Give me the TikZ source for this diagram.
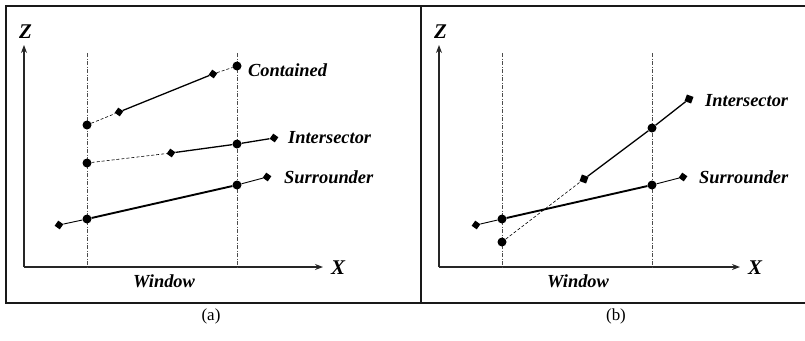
\documentclass[tikz,border=0pt]{standalone}
\usepackage{fontspec}
\setmainfont{Liberation Serif}
\usetikzlibrary{shapes.geometric,arrows.meta}
\begin{document}
\begin{tikzpicture}[x=1bp,y=-1bp,
  dotm/.style={circle,fill=black,inner sep=0pt,minimum size=9bp},
  diam/.style={diamond,fill=black,inner sep=0pt,minimum size=9bp,rotate=10},
  sqm/.style={rectangle,fill=black,inner sep=0pt,minimum size=7bp,rotate=-20},
  frameline/.style={line width=1.4bp,black!90},
  axis/.style={line width=1.1bp,black!85,-{Stealth[length=8bp,width=6bp]}},
  window/.style={line width=0.6bp,black!70,dash pattern=on 4bp off 1.5bp on 1bp off 1.5bp},
  dashedseg/.style={line width=0.6bp,dash pattern=on 3bp off 2bp},
  solidseg/.style={line width=1.3bp},
  thickseg/.style={line width=1.9bp},
  thinseg/.style={line width=0.9bp},
  lab/.style={font=\fontsize{18.5}{20}\selectfont\bfseries\itshape,inner sep=0pt},
  axlab/.style={font=\fontsize{21}{22}\selectfont\bfseries\itshape,inner sep=0pt},
  captext/.style={font=\fontsize{17}{18}\selectfont,inner sep=0pt}
]
\useasboundingbox (0,0) rectangle (805,340);
% frame
\coordinate (f1) at (6,6);
\coordinate (f2) at (805,6);
\coordinate (f3) at (805,303);
\coordinate (f4) at (6,303);
\coordinate (d1) at (421,6);
\coordinate (d2) at (421,303);
\draw[frameline] (f2) -- (f1) -- (f4) -- (f3);
\draw[frameline] (d1) -- (d2);

% ---------- panel (a) ----------
\coordinate (oa) at (24,267);
\coordinate (za) at (24,45);
\coordinate (xa) at (323,267);
\draw[axis] (oa) -- (za);
\draw[axis] (oa) -- (xa);
\node[axlab,anchor=base west] (Za) at (19,38) {Z};
\node[axlab,anchor=base west] (Xa) at (331,274) {X};
\coordinate (wa1t) at (87,53);
\coordinate (wa1b) at (87,267);
\coordinate (wa2t) at (237,53);
\coordinate (wa2b) at (237,267);
\draw[window] (wa1t) -- (wa1b);
\draw[window] (wa2t) -- (wa2b);
\node[lab,anchor=base west] (wina) at (133,287) {Window};

% contained
\node[dotm] (c1) at (87,125) {};
\node[diam] (c2) at (119,112) {};
\node[diam] (c3) at (213,74) {};
\node[dotm] (c4) at (237,66) {};
\draw[dashedseg] (c1) -- (c2);
\draw[solidseg] (c2) -- (c3);
\draw[dashedseg] (c3) -- (c4);
\node[lab,anchor=base west] (lc) at (248,76) {Contained};

% intersector
\node[dotm] (i1) at (87,163) {};
\node[diam] (i2) at (171,153) {};
\node[dotm] (i3) at (237,144) {};
\node[diam] (i4) at (274,138) {};
\draw[dashedseg] (i1) -- (i2);
\draw[solidseg] (i2) -- (i3) -- (i4);
\node[lab,anchor=base west] (li) at (288,143) {Intersector};

% surrounder
\node[diam] (s1) at (59,225) {};
\node[dotm] (s2) at (87,219) {};
\node[dotm] (s3) at (237,185) {};
\node[diam] (s4) at (267,177) {};
\draw[thinseg] (s1) -- (s2);
\draw[thickseg] (s2) -- (s3);
\draw[thinseg] (s3) -- (s4);
\node[lab,anchor=base west] (ls) at (284,183) {Surrounder};

\node[captext,anchor=base] (capa) at (211,320) {(a)};

% ---------- panel (b) ----------
\coordinate (ob) at (439,267);
\coordinate (zb) at (439,45);
\coordinate (xb) at (740,267);
\draw[axis] (ob) -- (zb);
\draw[axis] (ob) -- (xb);
\node[axlab,anchor=base west] (Zb) at (434,38) {Z};
\node[axlab,anchor=base west] (Xb) at (748,274) {X};
\coordinate (wb1t) at (502,53);
\coordinate (wb1b) at (502,267);
\coordinate (wb2t) at (652,53);
\coordinate (wb2b) at (652,267);
\draw[window] (wb1t) -- (wb1b);
\draw[window] (wb2t) -- (wb2b);
\node[lab,anchor=base west] (winb) at (547,287) {Window};

% surrounder b
\node[diam] (t1) at (476,225) {};
\node[dotm] (t2) at (502,219) {};
\node[dotm] (t3) at (652,185) {};
\node[diam] (t4) at (683,177) {};
\draw[thinseg] (t1) -- (t2);
\draw[thickseg] (t2) -- (t3);
\draw[thinseg] (t3) -- (t4);
\node[lab,anchor=base west] (lt) at (699,183) {Surrounder};

% intersector b
\node[dotm] (j1) at (502,242) {};
\node[sqm] (j2) at (584,179) {};
\node[dotm] (j3) at (652,128) {};
\node[sqm] (j4) at (689,99) {};
\draw[dashedseg] (j1) -- (j2);
\draw[solidseg] (j2) -- (j3) -- (j4);
\node[lab,anchor=base west] (lj) at (705,106) {Intersector};

\node[captext,anchor=base] (capb) at (616,320) {(b)};
\end{tikzpicture}
\end{document}
